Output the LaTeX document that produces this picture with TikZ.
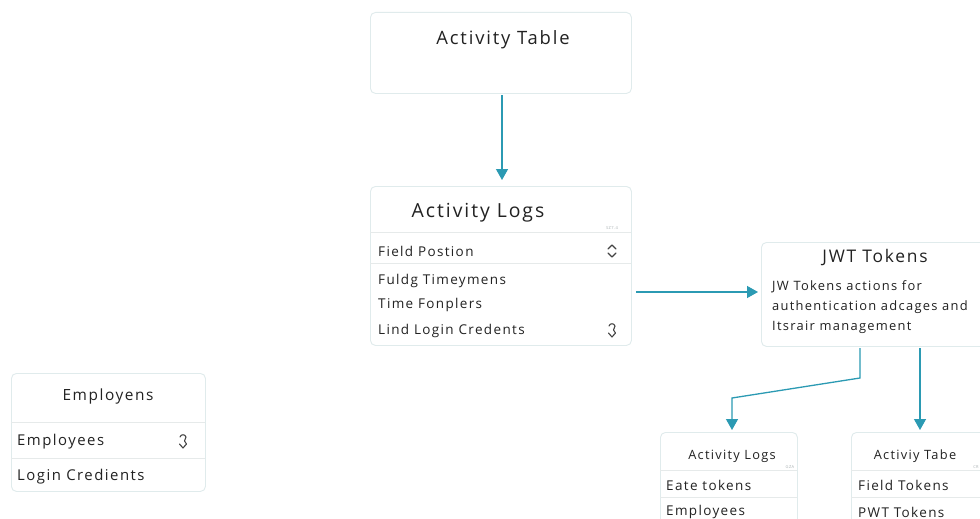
\documentclass[tikz,border=0pt]{standalone}
\usepackage{fontspec}
\setmainfont{Open Sans}[LetterSpace=10]
\usetikzlibrary{arrows.meta,calc}
\definecolor{boxc}{HTML}{E0EBEC}
\definecolor{divc}{HTML}{E6EAEA}
\definecolor{arrc}{HTML}{2B9AB3}
\definecolor{txt}{HTML}{222222}
\definecolor{tiny}{HTML}{A8B0B2}
\tikzset{
  card/.style={draw=boxc, line width=0.9pt, fill=white, rounded corners=5pt, anchor=north west, inner sep=0pt},
  ttl/.style={text=txt, font=\fontsize{18.4}{21}\selectfont, inner sep=0pt},
  sttl/.style={text=txt, font=\fontsize{12.8}{15}\selectfont, inner sep=0pt},
  row/.style={text=txt, font=\fontsize{13.5}{16}\selectfont, anchor=west, inner sep=0pt},
  tinytxt/.style={text=tiny, font=\fontsize{4}{5}\selectfont, inner sep=0pt},
  divl/.style={draw=divc, line width=0.8pt},
  arr/.style={draw=arrc, line width=1.3pt, -{Triangle[length=11pt,width=12pt]}},
  icon/.style={draw=txt!85, line width=1.1pt, line cap=round, line join=round}
}
\begin{document}
\begin{tikzpicture}[x=1pt,y=-1pt]
\useasboundingbox[fill=white] (0,0) rectangle (980,519);

% top box
\node[card, minimum width=261pt, minimum height=81pt] (top) at (370,12) {};
\node[ttl] (toptitle) at (503,40) {Activity Table};

% activity logs box
\node[card, minimum width=261pt, minimum height=159pt] (al) at (370,186) {};
\node[ttl, font=\fontsize{19.4}{22}\selectfont] (altitle) at (478,213) {Activity Logs};
\node[tinytxt] (altiny) at (612,228) {SZ7.4};
\draw[divl] (370,232) -- (631,232);
\draw[divl] (370,263) -- (631,263);
\node[row] (al1) at (378,251) {Field Postion};
\node[row] (al2) at (378,281) {Fuldg Timeymens};
\node[row] (al3) at (378,305) {Time Fonplers};
\node[row] (al4) at (378,331) {Lind Login Credents};
\draw[icon] (608,249) -- (612,245) -- (616,249);
\draw[icon] (608,253) -- (612,257) -- (616,253);
\draw[icon] (609,326) .. controls (610,323) and (614,323) .. (615,326) -- (613.5,330) -- (615.5,333) -- (612,337) -- (608.5,333);

% JWT box
\node[card, minimum width=232pt, minimum height=104pt] (jwt) at (761,242) {};
\node[ttl, font=\fontsize{17.4}{20}\selectfont] (jwttitle) at (875,258) {JWT Tokens};
\node[row, font=\fontsize{12.9}{15}\selectfont] (jw1) at (772,287) {JW Tokens actions for};
\node[row, font=\fontsize{12.9}{15}\selectfont] (jw2) at (772,307) {authentication adcages and};
\node[row, font=\fontsize{12.9}{15}\selectfont] (jw3) at (772,327) {Itsrair management};

% Employens box
\node[card, minimum width=194pt, minimum height=118pt] (emp) at (11,373) {};
\node[ttl, font=\fontsize{15.4}{18}\selectfont] (emptitle) at (108,396) {Employens};
\draw[divl] (11,422) -- (205,422);
\draw[divl] (11,458) -- (205,458);
\node[row, font=\fontsize{14.9}{17}\selectfont] (emp1) at (17,442) {Employees};
\node[row, font=\fontsize{14.9}{17}\selectfont] (emp2) at (17,477) {Login Credients};
\draw[icon] (180,437) .. controls (181,434) and (185,434) .. (186,437) -- (184.5,441) -- (186.5,444) -- (183,448) -- (179.5,444);

% bottom left box
\node[card, minimum width=137pt, minimum height=100pt] (bl) at (660,432) {};
\node[sttl] (bltitle) at (732,456) {Activity Logs};
\node[tinytxt] (bltiny) at (790,467) {GZA};
\draw[divl] (660,470) -- (797,470);
\draw[divl] (660,497) -- (797,497);
\node[row] (bl1) at (666,485) {Eate tokens};
\node[row] (bl2) at (666,512) {Employees};

% bottom right box
\node[card, minimum width=140pt, minimum height=100pt] (br) at (851,432) {};
\node[sttl] (brtitle) at (915,456) {Activiy Tabe};
\node[tinytxt] (brtiny) at (976,467) {CR};
\draw[divl] (851,470) -- (991,470);
\draw[divl] (851,497) -- (991,497);
\node[row] (br1) at (858,485) {Field Tokens};
\node[row] (br2) at (858,512) {PWT Tokens};

% connectors
\coordinate (a1s) at (502,95);
\coordinate (a1e) at (502,180);
\draw[arr] (a1s) -- (a1e);
\coordinate (a2s) at (636,292);
\coordinate (a2e) at (758,292);
\draw[arr] (a2s) -- (a2e);
\coordinate (j1) at (860,348);
\coordinate (j1b) at (860,378);
\coordinate (j1c) at (732,398);
\coordinate (j1e) at (732,430);
\draw[arr] (j1) -- (j1b) -- (j1c) -- (j1e);
\coordinate (j2) at (920,348);
\coordinate (j2e) at (920,430);
\draw[arr] (j2) -- (j2e);
\end{tikzpicture}
\end{document}
